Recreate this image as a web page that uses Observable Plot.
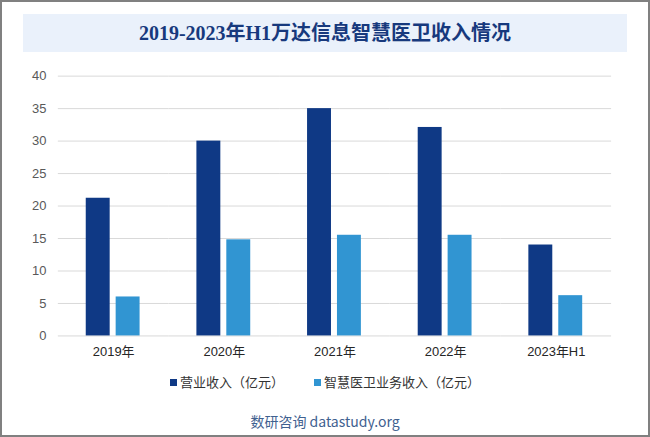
<!DOCTYPE html>
<html>
<head>
<meta charset="utf-8">
<script src="https://cdn.jsdelivr.net/npm/d3@7"></script>
<script src="https://cdn.jsdelivr.net/npm/@observablehq/plot@0.6"></script>
<style>
  html, body { margin: 0; padding: 0; background: #fff; }
  #frame { position: relative; width: 650px; height: 437px; box-sizing: border-box; border: 2px solid #808080; background: #fff; overflow: hidden; font-family: "Liberation Sans", Arial, "Noto Sans CJK SC", sans-serif; }
  #title { position: absolute; left: 21px; top: 12px; width: 604px; height: 38px; background: #eaf1fb; color: #17397d; font-family: "Liberation Serif", "Noto Sans CJK SC", serif; font-weight: bold; font-size: 20px; line-height: 38px; text-align: center; }
  #chart { position: absolute; left: -2px; top: 58px; }
  #legend { position: absolute; left: 0; top: 370px; width: 646px; text-align: center; font-size: 13px; color: #333; font-family: "Noto Sans CJK SC", sans-serif; }
  #legend span.item { display: inline-block; margin: 0 15px; }
  #legend span.sw { display: inline-block; width: 7px; height: 7px; margin-right: 3px; vertical-align: 1px; }
  #footer { position: absolute; left: 0; top: 409px; width: 646px; text-align: center; font-size: 14px; color: #3f6190; font-family: "Noto Sans CJK SC", sans-serif; }
</style>
</head>
<body>
<div id="frame">
  <div id="title">2019-2023年H1万达信息智慧医卫收入情况</div>
  <div id="chart"></div>
  <div id="legend"></div>
  <div id="footer">数研咨询 datastudy.org</div>
</div>
<script>
const years = ["2019年", "2020年", "2021年", "2022年", "2023年H1"];
const seriesNames = ["营业收入（亿元）", "智慧医卫业务收入（亿元）"];
const revenue = [21.2, 30.0, 35.0, 32.1, 14.0];
const medical = [6.0, 14.8, 15.5, 15.5, 6.2];
const yTicks = [0, 5, 10, 15, 20, 25, 30, 35, 40];
const colors = ["#0f3985", "#3195d2"];

const data = [];
years.forEach((y, i) => {
  data.push({year: y, series: seriesNames[0], value: revenue[i]});
  data.push({year: y, series: seriesNames[1], value: medical[i]});
});

const plot = Plot.plot({
  width: 650,
  height: 310,
  marginLeft: 57,
  marginRight: 37,
  marginTop: 15.7,
  marginBottom: 33.7,
  style: {fontFamily: '"Liberation Sans", Arial, "Noto Sans CJK SC", sans-serif', fontSize: "13px", background: "transparent"},
  fx: {domain: years, padding: 0, label: null, axis: null},
  x: {domain: seriesNames, paddingInner: 0.194, paddingOuter: 0.89, axis: null},
  y: {domain: [0, 40], axis: null},
  color: {domain: seriesNames, range: colors},
  marks: [
    Plot.ruleY(yTicks, {stroke: "#d9d9d9", strokeWidth: 1}),
    Plot.barY(data, {fx: "year", x: "series", y: "value", fill: "series"}),
    Plot.axisFx({anchor: "bottom", tickSize: 0, tickPadding: 11, fill: "#262626", fontSize: 13, label: null}),
    Plot.axisY(yTicks, {anchor: "left", tickSize: 0, tickPadding: 12, fill: "#595959", fontSize: 13, label: null})
  ]
});
document.getElementById("chart").appendChild(plot);

const legend = document.getElementById("legend");
seriesNames.forEach((name, i) => {
  const item = document.createElement("span");
  item.className = "item";
  const sw = document.createElement("span");
  sw.className = "sw";
  sw.style.background = colors[i];
  item.appendChild(sw);
  item.appendChild(document.createTextNode(name));
  legend.appendChild(item);
});
</script>
</body>
</html>
